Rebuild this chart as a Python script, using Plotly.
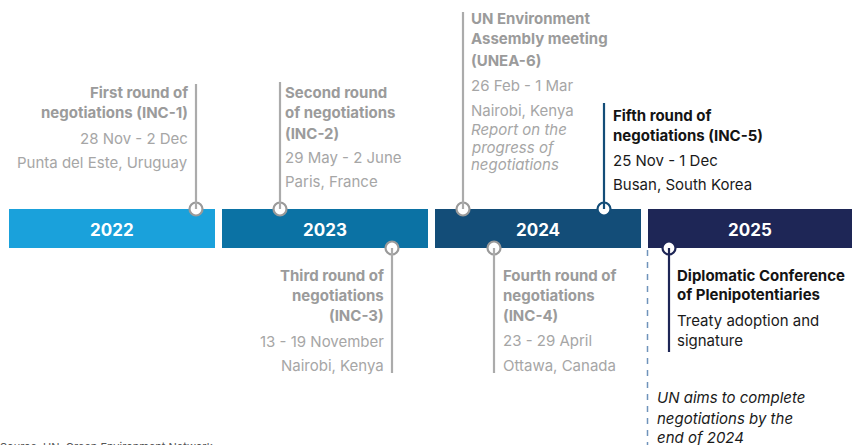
import plotly.graph_objects as go

# ---------------- data ----------------
years = ["2022", "2023", "2024", "2025"]
year_colors = ["#1aa1db", "#0b72a4", "#134d78", "#1e2656"]

event_titles = [
    ["First round of", "negotiations (INC-1)"],
    ["Second round", "of negotiations", "(INC-2)"],
    ["Third round of", "negotiations", "(INC-3)"],
    ["UN Environment", "Assembly meeting", "(UNEA-6)"],
    ["Fourth round of", "negotiations", "(INC-4)"],
    ["Fifth round of", "negotiations (INC-5)"],
    ["Diplomatic Conference", "of Plenipotentiaries"],
]
event_details = [
    ["28 Nov - 2 Dec", "Punta del Este, Uruguay"],
    ["29 May - 2 June", "Paris, France"],
    ["13 - 19 November", "Nairobi, Kenya"],
    ["26 Feb - 1 Mar", "Nairobi, Kenya"],
    ["23 - 29 April", "Ottawa, Canada"],
    ["25 Nov - 1 Dec", "Busan, South Korea"],
    ["Treaty adoption and", "signature"],
]
event_notes = [[], [], [], ["Report on the", "progress of", "negotiations"], [], [], []]
deadline_note = ["UN aims to complete", "negotiations by the", "end of 2024"]
source_text = "Source: UN, Green Environment Network"

# ---------------- layout constants ----------------
W, H = 852, 445
bar_x0 = [9, 222, 435, 648]
bar_w = [206, 206, 206, 204]
bar_top, bar_bot = 209, 248

ev_x = [196, 280, 392, 463, 494, 604, 669]
ev_side = ["up", "up", "down", "up", "down", "up", "down"]
ev_line_end = [84, 82, 373, 12, 373, 103, 352]
ev_text_x = [188, 285, 384, 471, 503, 613, 677]
ev_anchor = ["right", "left", "right", "left", "left", "left", "left"]
ev_title_y = [[92, 112], [92, 112, 133], [275, 295, 315], [18, 38, 60], [275, 295, 315], [115, 135], [275, 294]]
ev_detail_y = [[138, 162], [157, 181], [341, 365], [85, 110], [340, 365], [160, 184], [320, 340]]
ev_note_y = [[], [], [], [129, 147, 164], [], [], []]
ev_style = ["gray", "gray", "gray", "gray", "gray", "dark", "navy"]

style_line = {"gray": "#ababab", "dark": "#134d78", "navy": "#1e2656"}
style_circle = {"gray": "#9a9a9a", "dark": "#134d78", "navy": "#1e2656"}
style_title = {"gray": "#9b9b9b", "dark": "#141414", "navy": "#141414"}
style_detail = {"gray": "#a6a6a6", "dark": "#1a1a1a", "navy": "#1a1a1a"}

FONT = "Inter"

fig = go.Figure()
shapes = []
annotations = []

for yr, x0, w, c in zip(years, bar_x0, bar_w, year_colors):
    shapes.append(dict(type="rect", xref="x", yref="y", x0=x0, x1=x0 + w,
                       y0=bar_top, y1=bar_bot, fillcolor=c, line=dict(width=0), layer="below"))
    annotations.append(dict(x=x0 + w / 2, y=(bar_top + bar_bot) / 2 + 1, xref="x", yref="y",
                            text="<b>" + yr + "</b>", showarrow=False,
                            font=dict(family=FONT, size=17, color="white"),
                            xanchor="center", yanchor="middle"))

shapes.append(dict(type="line", xref="x", yref="y", x0=647.5, x1=647.5, y0=bar_bot + 2, y1=H,
                   line=dict(color="#6f93bb", width=1.5, dash="6px,6px"), layer="below"))

def add_text(x, y, txt, anchor, color, bold=False, italic=False, size=15):
    t = txt
    if bold:
        t = "<b>" + t + "</b>"
    if italic:
        t = "<i>" + t + "</i>"
    annotations.append(dict(x=x, y=y, xref="x", yref="y", text=t, showarrow=False,
                            font=dict(family=FONT, size=size, color=color),
                            xanchor=anchor, yanchor="middle", borderpad=0, borderwidth=0))

mk_x, mk_y, mk_c = [], [], []
for i in range(len(event_titles)):
    st = ev_style[i]
    y_anchor_pt = bar_top if ev_side[i] == "up" else bar_bot
    shapes.append(dict(type="line", xref="x", yref="y", x0=ev_x[i], x1=ev_x[i],
                       y0=y_anchor_pt, y1=ev_line_end[i],
                       line=dict(color=style_line[st], width=2.2)))
    mk_x.append(ev_x[i])
    mk_y.append(y_anchor_pt)
    mk_c.append(style_circle[st])
    for t, yy in zip(event_titles[i], ev_title_y[i]):
        add_text(ev_text_x[i], yy, t, ev_anchor[i], style_title[st], bold=True)
    for t, yy in zip(event_details[i], ev_detail_y[i]):
        add_text(ev_text_x[i], yy, t, ev_anchor[i], style_detail[st])
    for t, yy in zip(event_notes[i], ev_note_y[i]):
        add_text(ev_text_x[i], yy, t, ev_anchor[i], style_detail[st], italic=True)

for t, yy in zip(deadline_note, [397, 418, 437]):
    add_text(657, yy, t, "left", "#1a1a1a", italic=True)

annotations.append(dict(x=0, y=440, xref="x", yref="y", text=source_text, showarrow=False,
                        font=dict(family=FONT, size=11, color="#555555"),
                        xanchor="left", yanchor="top", borderpad=0, borderwidth=0))

fig.add_trace(go.Scatter(x=mk_x, y=mk_y, mode="markers", hoverinfo="skip",
                         marker=dict(size=13, color="white", line=dict(color=mk_c, width=2.2))))

fig.update_layout(
    width=W, height=H, margin=dict(l=0, r=0, t=0, b=0),
    paper_bgcolor="white", plot_bgcolor="white", showlegend=False,
    xaxis=dict(range=[0, W], visible=False, fixedrange=True),
    yaxis=dict(range=[H, 0], visible=False, fixedrange=True),
    shapes=shapes, annotations=annotations,
)
fig.write_html("out.html", config={"displayModeBar": False})
